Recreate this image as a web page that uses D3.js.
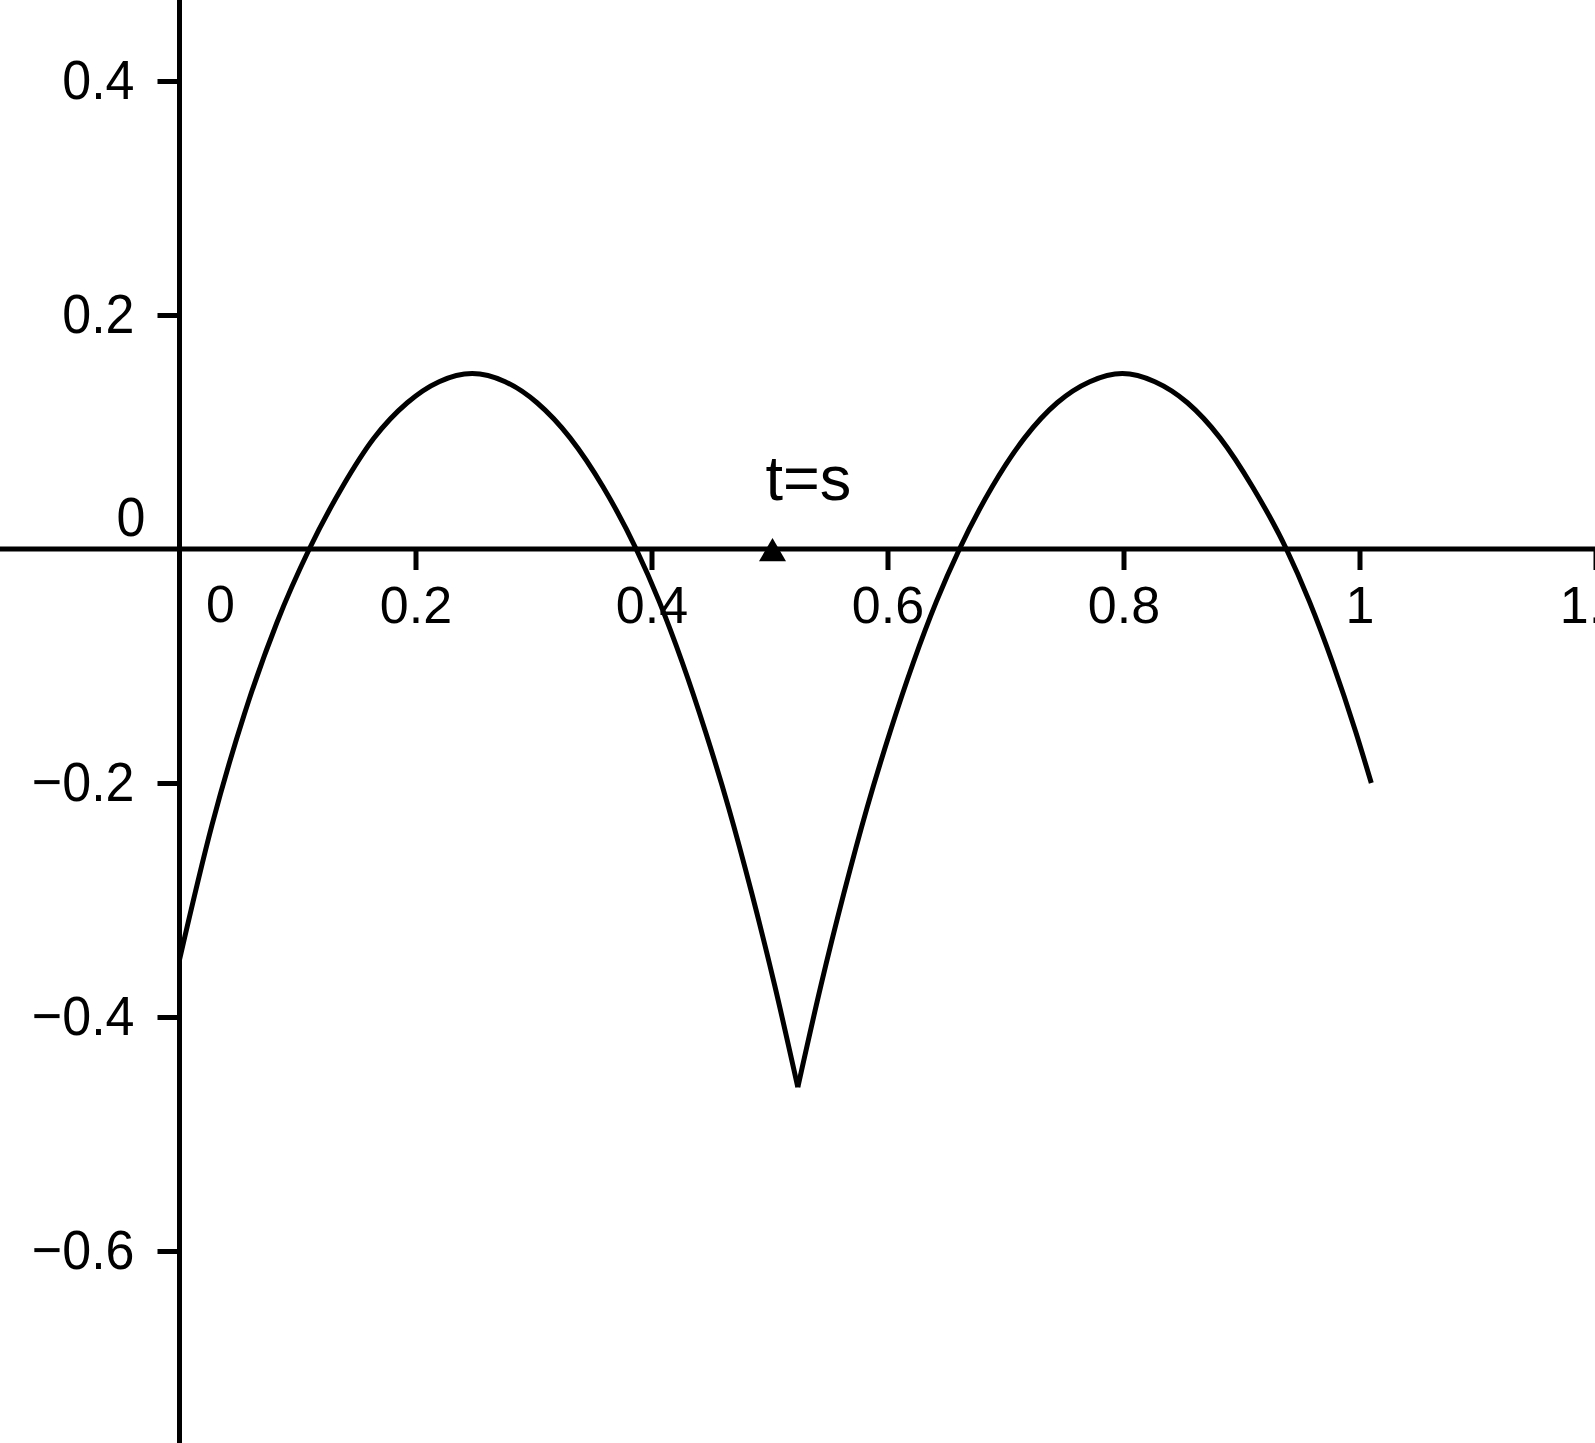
<!DOCTYPE html>
<html>
  <head>
    <script src="https://d3js.org/d3.v7.min.js"></script>
    <style>
body {
    margin: 0;
    background: white;
}
text {
    font-family: "Liberation Sans", Arial, sans-serif;
    fill: black;
}
    </style>
  </head>
  <body>
    <script>
// tick values
var xTicks = [0.2, 0.4, 0.6, 0.8, 1, 1.2];
var yTicks = [0.4, 0.2, -0.2, -0.4, -0.6];

// the curve, split at the cusp (t, value)
var curveLeft = [
	[0.000, -0.351], [0.0275, -0.236], [0.055, -0.141], [0.0825, -0.063],
	[0.110, 0.000], [0.138, 0.053], [0.165, 0.095], [0.193, 0.125],
	[0.220, 0.143], [0.248, 0.150], [0.276, 0.143], [0.303, 0.125],
	[0.331, 0.095], [0.359, 0.053], [0.387, 0.000], [0.4066, -0.045],
	[0.4261, -0.097], [0.4457, -0.156], [0.4653, -0.221], [0.4849, -0.294],
	[0.5044, -0.373], [0.524, -0.460]
];
var curveRight = [
	[0.524, -0.460], [0.5436, -0.373], [0.5631, -0.294], [0.5827, -0.221],
	[0.6023, -0.156], [0.6219, -0.097], [0.6414, -0.045], [0.661, 0.000],
	[0.6886, 0.053], [0.7162, 0.095], [0.7438, 0.125], [0.7714, 0.143],
	[0.799, 0.150], [0.8266, 0.143], [0.8542, 0.125], [0.8818, 0.095],
	[0.9094, 0.053], [0.938, 0.000], [0.9576, -0.045], [0.9771, -0.097],
	[0.9967, -0.156], [1.010, -0.200]
];

// the slider point t = s
var marker = {t: 0.5, label: "t=s"};

var W = 1595, H = 1443;

var x = d3.scaleLinear().domain([0, 1.2]).range([179.5, 1595.5]);
var y = d3.scaleLinear().domain([0.4, -0.6]).range([81, 1251]);

function fmt(d) {
	return d < 0 ? "\u2212" + Math.abs(d) : String(d);
}

var svg = d3.select("body").append("svg").attr("width", W).attr("height", H);
svg.append("rect").attr("width", W).attr("height", H).style("fill", "white");

// axis lines run across the whole picture
svg.append("line")
	.attr("x1", 0).attr("x2", W)
	.attr("y1", y(0)).attr("y2", y(0))
	.style("stroke", "black").style("stroke-width", 5);
svg.append("line")
	.attr("x1", x(0)).attr("x2", x(0))
	.attr("y1", 0).attr("y2", H)
	.style("stroke", "black").style("stroke-width", 5);

var xAxis = svg.append("g")
	.attr("transform", "translate(0," + y(0) + ")")
	.call(d3.axisBottom(x).tickValues(xTicks).tickSize(21).tickSizeOuter(0).tickPadding(16).tickFormat(fmt));
var yAxis = svg.append("g")
	.attr("transform", "translate(" + x(0) + ",0)")
	.call(d3.axisLeft(y).tickValues(yTicks).tickSize(22).tickSizeOuter(0).tickPadding(23).tickFormat(fmt));

[xAxis, yAxis].forEach(function (g) {
	g.select(".domain").remove();
	g.selectAll(".tick line").style("stroke", "black").style("stroke-width", 5);
	g.selectAll(".tick text").style("font-size", "52px").style("fill", "black");
});
// y labels in the picture are a bit taller
yAxis.selectAll(".tick text").attr("transform", "scale(1,1.08)");

// the two zero labels sit off the origin
svg.append("text")
	.attr("x", x(0) + 41).attr("y", y(0) + 73)
	.attr("text-anchor", "middle")
	.style("font-size", "52px")
	.text("0");
svg.append("text")
	.attr("transform", "translate(" + (x(0) - 34) + "," + (y(0) - 13) + ") scale(1,1.08)")
	.attr("text-anchor", "end")
	.style("font-size", "52px")
	.text("0");

var line = d3.line()
	.x(function (d) { return x(d[0]); })
	.y(function (d) { return y(d[1]); })
	.curve(d3.curveMonotoneX);

svg.selectAll("path.curve")
	.data([curveLeft, curveRight])
	.enter().append("path")
	.attr("class", "curve")
	.attr("d", line)
	.style("fill", "none")
	.style("stroke", "black")
	.style("stroke-width", 5);

svg.append("path")
	.attr("d", d3.symbol(d3.symbolTriangle, 316)())
	.attr("transform", "translate(" + (x(marker.t) + 3) + "," + (y(0) + 4.5) + ")")
	.style("fill", "black");

svg.append("text")
	.attr("x", x(marker.t) - 4).attr("y", y(0) - 49)
	.style("font-size", "63px")
	.text(marker.label);
    </script>
  </body>
</html>
